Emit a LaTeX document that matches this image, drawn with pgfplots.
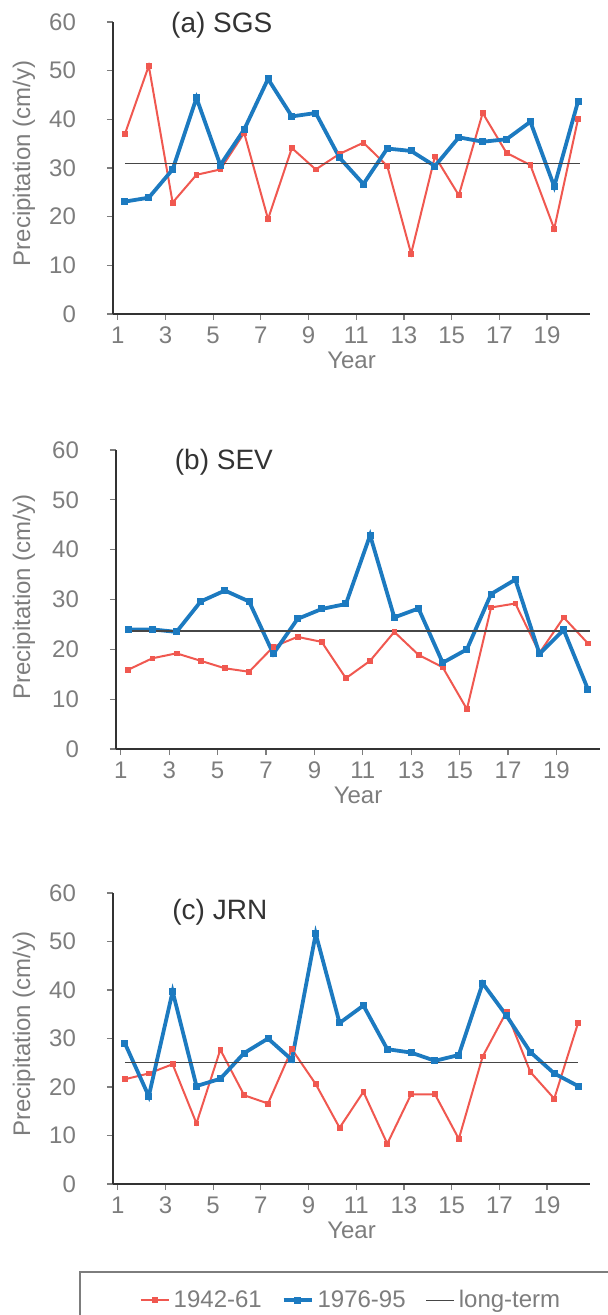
\documentclass[border=0pt]{standalone}
\usepackage{fontspec}
\setmainfont{Liberation Sans}
\usepackage{pgfplots}
\pgfplotsset{compat=1.18}
\definecolor{rd}{RGB}{240,88,80}
\definecolor{bl}{RGB}{28,122,192}
\definecolor{lt}{RGB}{70,70,70}
\definecolor{tk}{RGB}{125,125,125}
\tikzset{ttl/.style={font=\fontsize{14}{16}\selectfont, text=black!80}}
\pgfplotsset{
 panel/.style={
  scale only axis, clip=false,
  xmin=0.5, xmax=20.5, ymin=0, ymax=60,
  axis lines=left, axis line style={-, line width=1pt, color=black!80},
  xtick={0.7,2.7,4.7,6.7,8.7,10.7,12.7,14.7,16.7,18.7},
  xticklabels={1,3,5,7,9,11,13,15,17,19},
  ytick={0,10,20,30,40,50,60},
  tick align=outside, major tick length=3pt, tick style={tk, line width=0.6pt},
  ticklabel style={font=\fontsize{12}{14}\selectfont, text=tk},
  /pgf/number format/assume math mode=true,
  yticklabel style={xshift=-12pt},
  xlabel={Year}, ylabel={Precipitation (cm/y)},
  label style={font=\fontsize{12}{14}\selectfont, text=tk},
  xlabel style={at={(axis description cs:0.5,0)},anchor=center,yshift=-23pt},
  ylabel style={at={(axis description cs:-0.187,0.515)},anchor=center},
 },
 rser/.style={rd, line width=1pt, mark=square*, mark size=1.2pt, mark options={solid, line width=0.4pt}},
 bser/.style={bl, line width=1.9pt, mark=square*, mark size=1.5pt, mark options={solid, line width=0.5pt}},
 lser/.style={lt, line width=0.6pt, no marks},
}
\begin{document}
\begin{tikzpicture}
% ---------------- (a) SGS
\begin{axis}[panel, at={(56.5pt,-157pt)}, anchor=south west, width=238.5pt, height=146pt]
\addplot[rser] coordinates {(1,37.0)(2,51.0)(3,22.9)(4,28.6)(5,29.7)(6,37.2)(7,19.5)(8,34.1)(9,29.7)(10,32.9)(11,35.2)(12,30.4)(13,12.4)(14,32.4)(15,24.4)(16,41.3)(17,33.1)(18,30.6)(19,17.5)(20,40.1)};
\addplot[bser] coordinates {(1,23.1)(2,23.9)(3,29.7)(4,44.4)(5,30.6)(6,37.9)(7,48.3)(8,40.6)(9,41.3)(10,32.1)(11,26.7)(12,34.0)(13,33.5)(14,30.4)(15,36.3)(16,35.4)(17,35.9)(18,39.5)(19,26.2)(20,43.7)};
\addplot[lser] coordinates {(1,30.9)(20.1,30.9)};
\node[ttl] at (rel axis cs:0.228,0.99) {(a) SGS};
\end{axis}
% ---------------- (b) SEV
\begin{axis}[panel, at={(58pt,-374.5pt)}, anchor=south west, width=242pt, height=149.5pt,
  ylabel style={at={(axis description cs:-0.19,0.508)}}]
\addplot[rser] coordinates {(1,15.9)(2,18.2)(3,19.2)(4,17.7)(5,16.2)(6,15.5)(7,20.5)(8,22.5)(9,21.5)(10,14.2)(11,17.7)(12,23.5)(13,18.9)(14,16.4)(15,8.0)(16,28.4)(17,29.2)(18,19.3)(19,26.4)(20,21.2)};
\addplot[bser] coordinates {(1,24.0)(2,24.0)(3,23.5)(4,29.6)(5,31.8)(6,29.6)(7,19.1)(8,26.1)(9,28.1)(10,29.1)(11,42.9)(12,26.4)(13,28.2)(14,17.3)(15,20.0)(16,31.1)(17,34.0)(18,19.1)(19,23.9)(20,12.0)};
\addplot[lser] coordinates {(1,23.7)(20.1,23.7)};
\node[ttl] at (rel axis cs:0.223,0.96) {(b) SEV};
\end{axis}
% ---------------- (c) JRN
\begin{axis}[panel, at={(56.5pt,-592pt)}, anchor=south west, width=238.5pt, height=145.5pt,
  legend columns=3,
  legend style={at={(rel axis cs:0.501,-0.399)}, anchor=center, draw=none, fill=none,
    font=\fontsize{12}{14}\selectfont, text=tk,
    /tikz/every even column/.append style={column sep=8pt}},
  legend image code/.code={\draw[mark repeat=2,mark phase=2] plot coordinates {(0pt,0pt)(7pt,0pt)(14pt,0pt)};}]
\addplot[rser] coordinates {(1,21.6)(2,22.8)(3,24.7)(4,12.5)(5,27.7)(6,18.3)(7,16.6)(8,27.8)(9,20.6)(10,11.6)(11,19.0)(12,8.3)(13,18.5)(14,18.5)(15,9.3)(16,26.3)(17,35.5)(18,23.1)(19,17.6)(20,33.2)};
\addlegendentry{1942-61}
\addplot[bser] coordinates {(1,29.0)(2,18.1)(3,39.7)(4,20.2)(5,21.7)(6,27.0)(7,30.0)(8,25.6)(9,51.6)(10,33.2)(11,36.8)(12,27.8)(13,27.1)(14,25.4)(15,26.6)(16,41.4)(17,34.7)(18,27.2)(19,22.8)(20,20.2)};
\addlegendentry{1976-95}
\addplot[lser] coordinates {(1,25.0)(20,25.0)};
\addlegendentry{long-term}
\node[ttl] at (rel axis cs:0.224,0.935) {(c) JRN};
\end{axis}
\draw[tk, line width=0.6pt] (40pt,-636pt) rectangle (330pt,-680pt);
\pgfresetboundingbox
\useasboundingbox (0,0) rectangle (304pt,-657.5pt);
\end{tikzpicture}
\end{document}
